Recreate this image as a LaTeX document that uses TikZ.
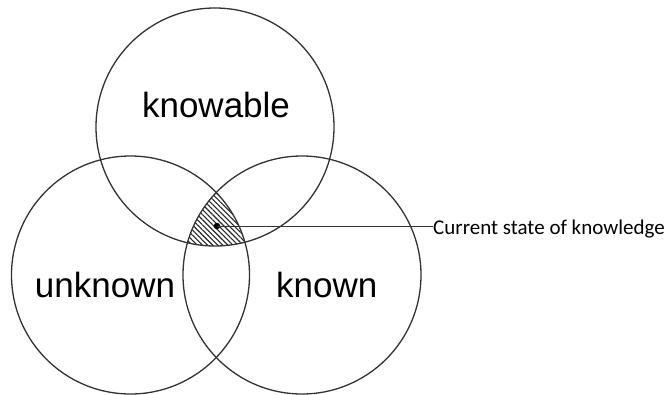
\documentclass[tikz,border=0pt]{standalone}
\usepackage{fontspec}
\newfontfamily\helv{Liberation Sans}
\newfontfamily\calib{Carlito}
\usetikzlibrary{patterns.meta}
\definecolor{edge}{HTML}{333333}
\tikzset{
  setcircle/.style={draw=edge, line width=1.3pt},
  biglabel/.style={anchor=base, inner sep=0pt, text=black, font=\helv\fontsize{35}{40}\selectfont},
  smalllabel/.style={anchor=base west, inner sep=0pt, text=black, font=\calib\fontsize{21}{25}\selectfont},
  hatch/.style={pattern={Lines[angle=-45, distance=3.6pt, line width=1.1pt]}, pattern color=black!85}
}
\begin{document}
\begin{tikzpicture}[x=1pt,y=-1pt]
\useasboundingbox (0,0) rectangle (667,394);
\coordinate (cT) at (215,127);
\coordinate (cL) at (130.5,275);
\coordinate (cR) at (302,275);
% hatched common region
\begin{scope}
  \clip (cT) circle[radius=119];
  \clip (cL) circle[radius=119];
  \fill[hatch] (cR) circle[radius=119];
\end{scope}
\draw[setcircle] (cT) circle[radius=119];
\draw[setcircle] (cL) circle[radius=119];
\draw[setcircle] (cR) circle[radius=119];
\node[biglabel] (knowable) at (216,117) {knowable};
\node[biglabel] (unknown) at (105,297) {unknown};
\node[biglabel] (known) at (326.7,297) {known};
\node[circle, fill=black, inner sep=0pt, minimum size=6.5pt] (dot) at (217,226) {};
\node[smalllabel] (state) at (433,234) {Current state of knowledge};
\draw[draw=edge, line width=1pt] (dot.center) -- (dot -| state.west);
\end{tikzpicture}
\end{document}
